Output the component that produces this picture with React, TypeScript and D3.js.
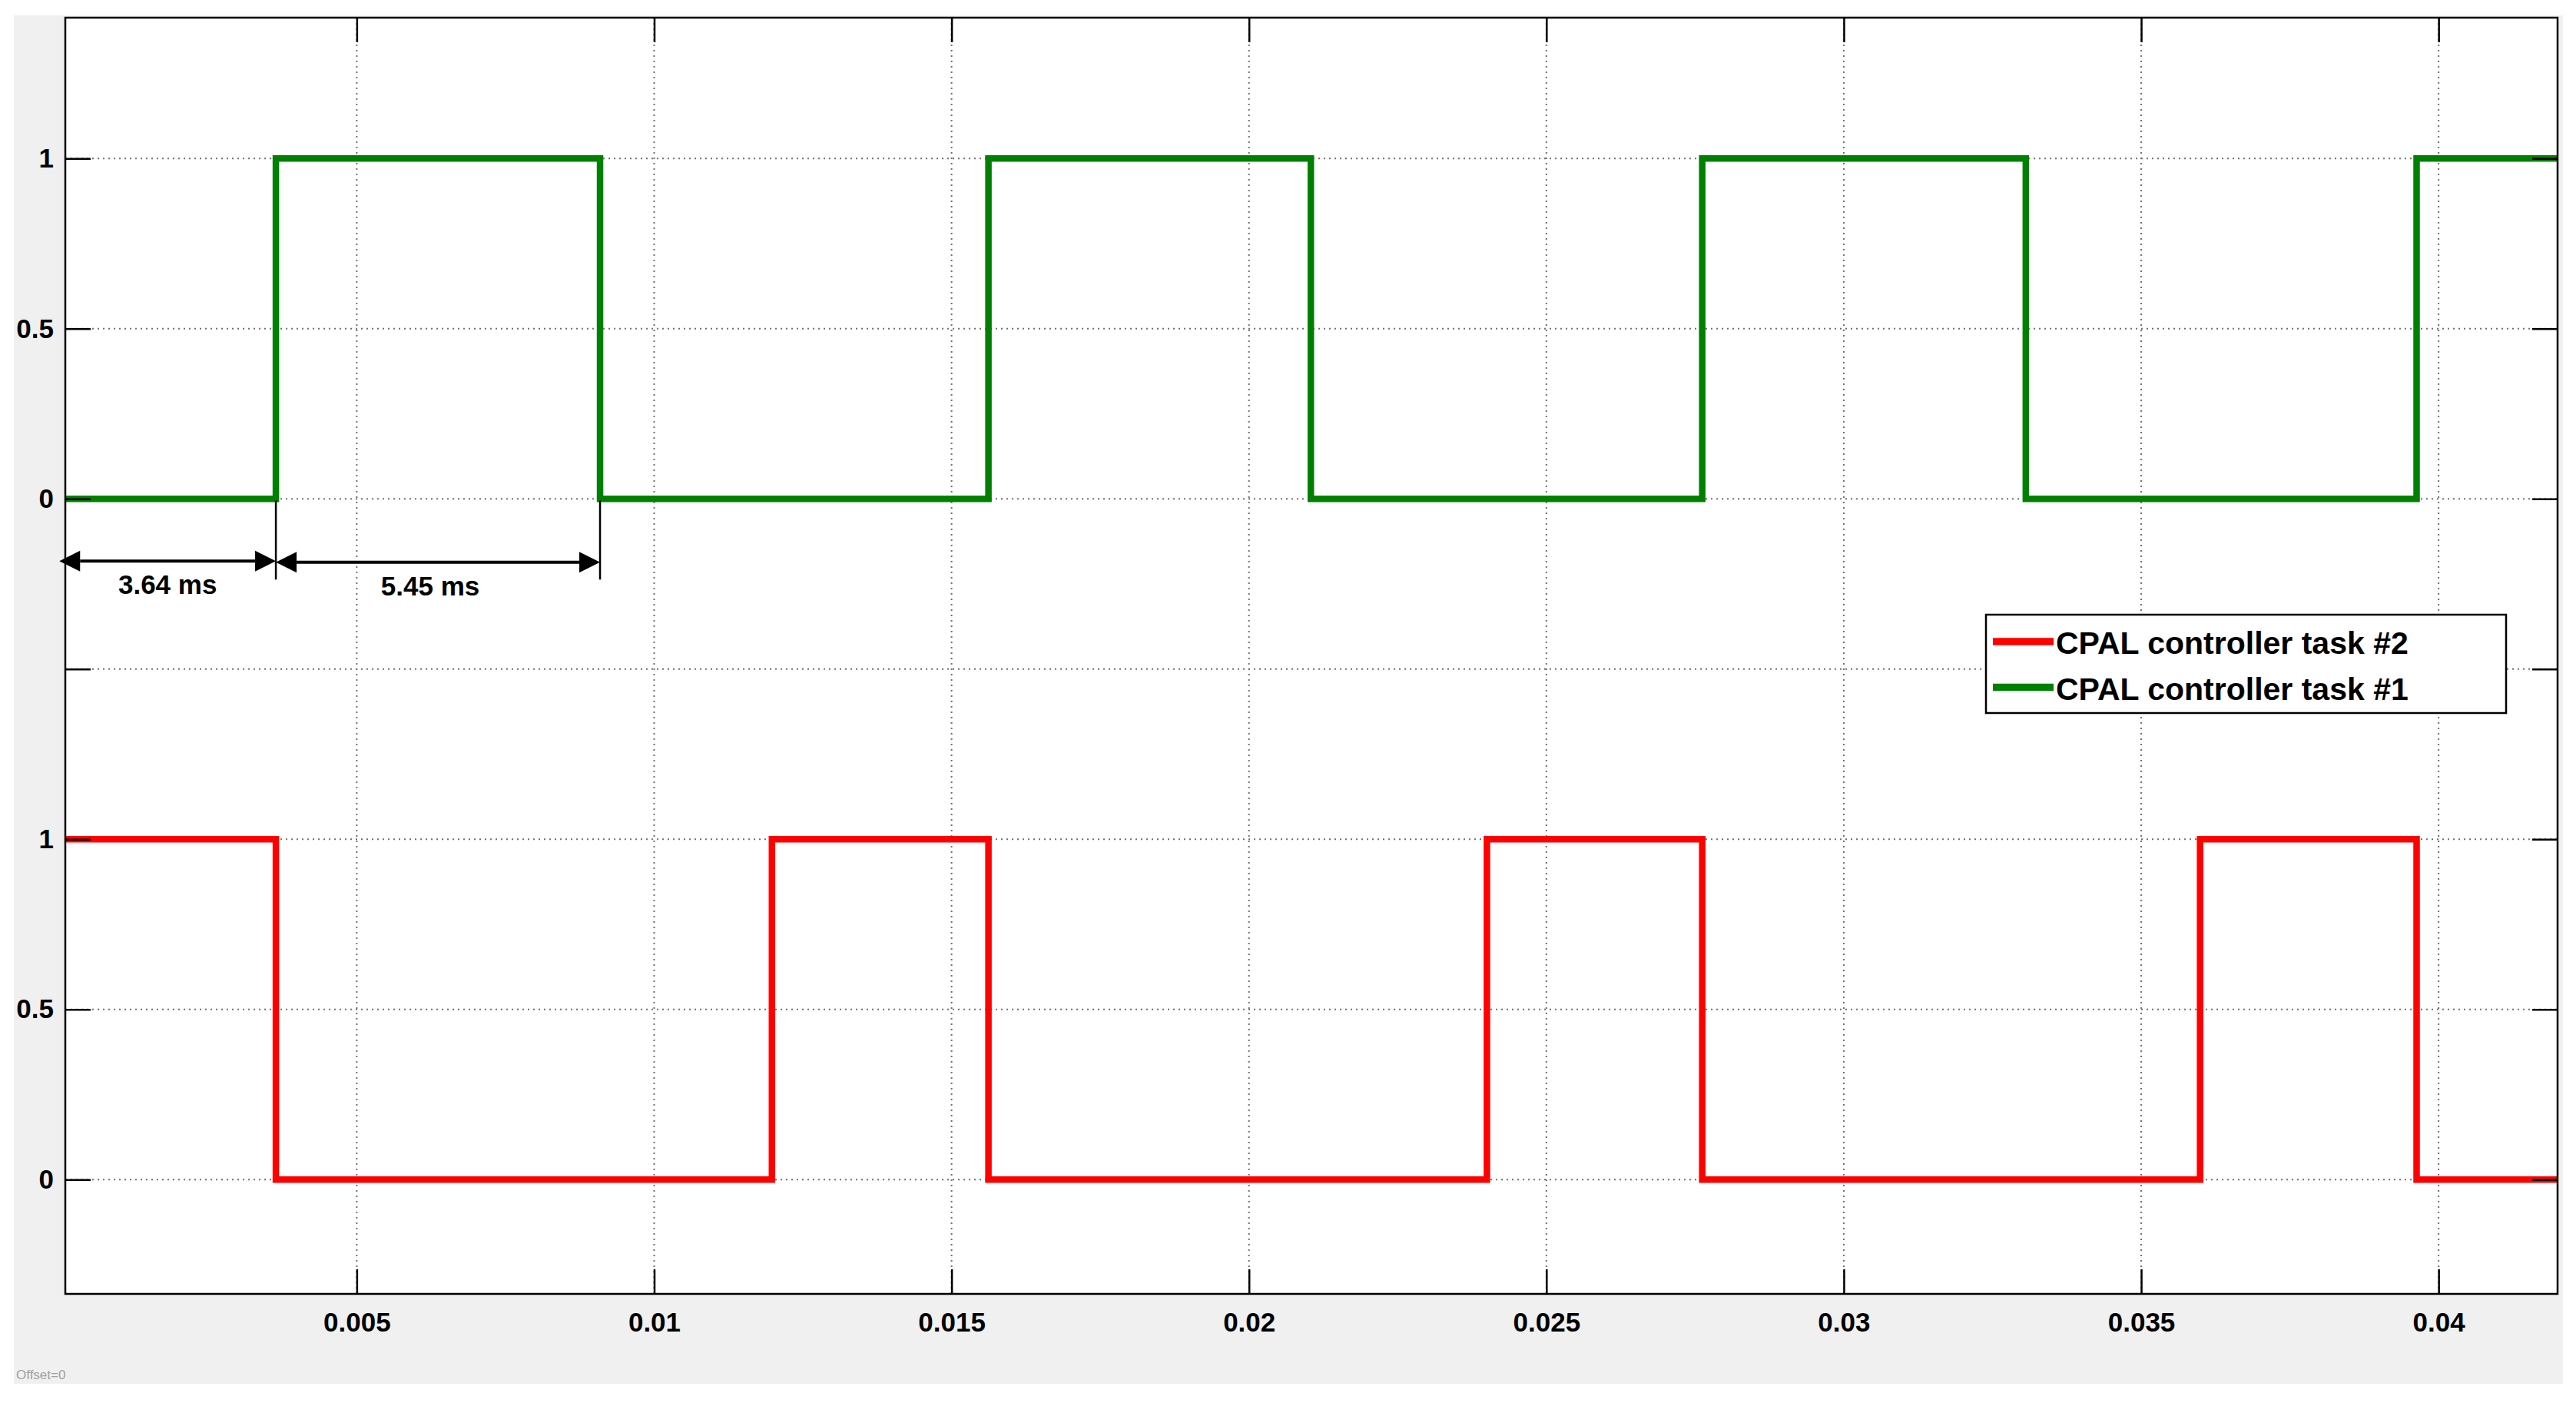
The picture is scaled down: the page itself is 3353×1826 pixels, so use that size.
import React, { useEffect, useRef } from 'react'
import { select, scaleLinear, line, curveStepAfter, axisLeft, axisRight, axisTop, axisBottom } from 'd3'

// time axis (seconds)
const timeDomain = [0.0001, 0.042]
const xTickValues = [0.005, 0.01, 0.015, 0.02, 0.025, 0.03, 0.035, 0.04]

// the two tasks are stacked on one axis: task #2 at 0..1, task #1 shifted up by 2
const yDomain = [-0.336, 3.414]
const yTickValues = [0, 0.5, 1, 1.5, 2, 2.5, 3]
const yTickLabels = ['0', '0.5', '1', '', '0', '0.5', '1']

const task1Times = [0.0001, 0.00364, 0.00909, 0.01562, 0.02104, 0.02762, 0.03306, 0.03963, 0.042]
const task1Values = [0, 1, 0, 1, 0, 1, 0, 1, 1]
const task2Times = [0.0001, 0.00364, 0.01198, 0.01562, 0.024, 0.02762, 0.03599, 0.03963, 0.042]
const task2Values = [1, 0, 1, 0, 1, 0, 1, 0, 0]

const seriesNames = ['CPAL controller task #2', 'CPAL controller task #1']
const seriesColors = ['#ff0000', '#008000']
const seriesOffsets = [0, 2]

// dimension arrows under task #1
const spanStarts = [0, 0.00364]
const spanEnds = [0.00364, 0.00909]
const spanLabels = ['3.64 ms', '5.45 ms']

const W = 3353
const H = 1826
const margin = { left: 85, top: 23, right: 3329, bottom: 1684 }
const FONT = '"Liberation Sans", Arial, Helvetica, sans-serif'

const App = () => {
  const svgRef = useRef<SVGSVGElement>(null)

  useEffect(() => {
    const svg = select(svgRef.current)
    svg.selectAll('*').remove()

    const x = scaleLinear().domain(timeDomain).range([margin.left, margin.right])
    const y = scaleLinear().domain(yDomain).range([margin.bottom, margin.top])
    const plotW = margin.right - margin.left
    const plotH = margin.bottom - margin.top

    // figure background
    svg.append('rect')
      .attr('x', 18).attr('y', 20)
      .attr('width', 3318).attr('height', 1781)
      .attr('fill', '#f0f0f0')

    svg.append('rect')
      .attr('x', margin.left).attr('y', margin.top)
      .attr('width', plotW).attr('height', plotH)
      .attr('fill', '#ffffff')

    svg.append('defs').append('clipPath').attr('id', 'plot-clip')
      .append('rect')
      .attr('x', margin.left).attr('y', margin.top)
      .attr('width', plotW).attr('height', plotH)

    // dotted grid
    const grid = svg.append('g')
      .attr('stroke', '#707070')
      .attr('stroke-width', 2)
      .attr('stroke-dasharray', '2 5')
    grid.selectAll('.vgrid')
      .data(xTickValues)
      .join('line')
      .attr('class', 'vgrid')
      .attr('x1', d => x(d)).attr('x2', d => x(d))
      .attr('y1', margin.top).attr('y2', margin.bottom)
    grid.selectAll('.hgrid')
      .data(yTickValues)
      .join('line')
      .attr('class', 'hgrid')
      .attr('x1', margin.left).attr('x2', margin.right)
      .attr('y1', d => y(d)).attr('y2', d => y(d))

    // step signals
    const series = [
      task2Times.map((t, i) => [t, task2Values[i]]),
      task1Times.map((t, i) => [t, task1Values[i]])
    ]
    series.forEach((pts, k) => {
      const path = line<number[]>()
        .x(d => x(d[0]))
        .y(d => y(d[1] + seriesOffsets[k]))
        .curve(curveStepAfter)
      svg.append('path')
        .attr('d', path(pts))
        .attr('fill', 'none')
        .attr('stroke', seriesColors[k])
        .attr('stroke-width', 8.5)
        .attr('clip-path', 'url(#plot-clip)')
    })

    // axes, ticks pointing inwards on all four sides
    const styleAxis = (g) => {
      g.attr('font-family', FONT).attr('font-size', 35).attr('font-weight', 'bold')
      g.select('.domain').remove()
      g.selectAll('.tick line').attr('stroke', '#000').attr('stroke-width', 2.5)
      g.selectAll('.tick text').attr('fill', '#000')
    }

    svg.append('g')
      .attr('transform', `translate(${margin.left},0)`)
      .call(axisLeft(y).tickValues(yTickValues)
        .tickFormat((d, i) => yTickLabels[i])
        .tickSizeInner(-33).tickSizeOuter(0).tickPadding(15))
      .call(styleAxis)

    svg.append('g')
      .attr('transform', `translate(${margin.right},0)`)
      .call(axisRight(y).tickValues(yTickValues).tickFormat(() => '')
        .tickSizeInner(-33).tickSizeOuter(0))
      .call(styleAxis)

    svg.append('g')
      .attr('transform', `translate(0,${margin.bottom})`)
      .call(axisBottom(x).tickValues(xTickValues)
        .tickFormat(d => String(d))
        .tickSizeInner(-32).tickSizeOuter(0).tickPadding(24))
      .call(styleAxis)

    svg.append('g')
      .attr('transform', `translate(0,${margin.top})`)
      .call(axisTop(x).tickValues(xTickValues).tickFormat(() => '')
        .tickSizeInner(-32).tickSizeOuter(0))
      .call(styleAxis)

    svg.append('rect')
      .attr('x', margin.left).attr('y', margin.top)
      .attr('width', plotW).attr('height', plotH)
      .attr('fill', 'none')
      .attr('stroke', '#000')
      .attr('stroke-width', 2.5)

    // dimension arrows
    const base = y(seriesOffsets[1])
    const arrowY = base + 81
    const head = 27
    const half = 13.5
    const ann = svg.append('g')
    const edges = [spanStarts[1], spanEnds[1]]
    ann.selectAll('.ext')
      .data(edges)
      .join('line')
      .attr('class', 'ext')
      .attr('x1', d => x(d)).attr('x2', d => x(d))
      .attr('y1', base + 2).attr('y2', base + 105)
      .attr('stroke', '#000').attr('stroke-width', 2.5)
    spanStarts.forEach((s, i) => {
      const x0 = x(s)
      const x1 = x(spanEnds[i])
      const ay = arrowY + i * 1.5
      ann.append('line')
        .attr('x1', x0 + head).attr('x2', x1 - head)
        .attr('y1', ay).attr('y2', ay)
        .attr('stroke', '#000').attr('stroke-width', 4)
      ann.append('polygon')
        .attr('points', `${x0},${ay} ${x0 + head},${ay - half} ${x0 + head},${ay + half}`)
        .attr('fill', '#000')
      ann.append('polygon')
        .attr('points', `${x1},${ay} ${x1 - head},${ay - half} ${x1 - head},${ay + half}`)
        .attr('fill', '#000')
      ann.append('text')
        .attr('x', (x0 + x1) / 2 - i * 10)
        .attr('y', ay + 43)
        .attr('text-anchor', 'middle')
        .attr('font-family', FONT)
        .attr('font-size', 35)
        .attr('font-weight', 'bold')
        .attr('fill', '#000')
        .text(spanLabels[i])
    })

    // legend
    const legend = svg.append('g').attr('transform', 'translate(2585,800)')
    legend.append('rect')
      .attr('width', 677).attr('height', 128)
      .attr('fill', '#fff')
      .attr('stroke', '#000').attr('stroke-width', 2.5)
    const rows = legend.selectAll('.row')
      .data(seriesNames)
      .join('g')
      .attr('class', 'row')
      .attr('transform', (d, i) => `translate(0,${35 + i * 59.5})`)
    rows.append('line')
      .attr('x1', 9).attr('x2', 88)
      .attr('y1', 0).attr('y2', 0)
      .attr('stroke', (d, i) => seriesColors[i])
      .attr('stroke-width', 9.5)
    rows.append('text')
      .attr('x', 91).attr('y', 16)
      .attr('font-family', FONT)
      .attr('font-size', 41)
      .attr('font-weight', 'bold')
      .attr('fill', '#000')
      .text(d => d)

    svg.append('text')
      .attr('x', 21).attr('y', 1795)
      .attr('font-family', FONT)
      .attr('font-size', 17)
      .attr('fill', '#a0a0a0')
      .text('Offset=0')
  }, [])

  return (
    <svg
      ref={svgRef}
      width={W}
      height={H}
      style={{ position: 'absolute', left: 0, top: 0, background: '#fff' }}
    />
  )
}

export default App
